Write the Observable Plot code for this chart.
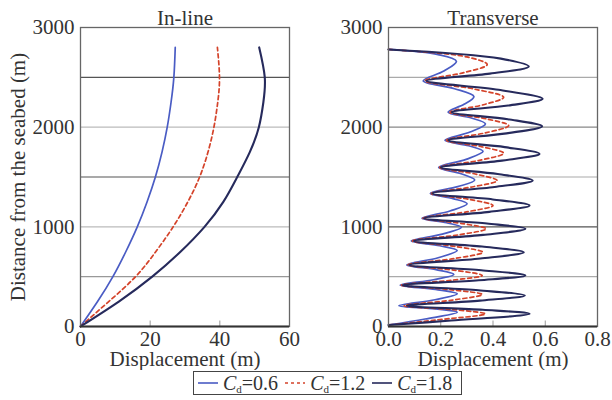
<!DOCTYPE html>
<html>
<head>
<meta charset="utf-8">
<script src="https://cdn.jsdelivr.net/npm/d3@7"></script>
<script src="https://cdn.jsdelivr.net/npm/@observablehq/plot@0.6"></script>
<style>
  html, body { margin: 0; padding: 0; background: #fff; }
  #wrap { position: relative; width: 612px; height: 400px; font-family: "Liberation Serif", serif; color: #333; }
  .panel { position: absolute; top: 0; }
  #legend { position: absolute; left: 193px; top: 371px; width: 267px; height: 22px; border: 1px solid #444;
    display: flex; align-items: center; font-size: 20px; color: #333; white-space: nowrap; }
  #legend .it { display: flex; align-items: center; }
  #legend sub { font-size: 11px; vertical-align: -3px; }
</style>
</head>
<body>
<div id="wrap">
  <div id="left" class="panel" style="left:0"></div>
  <div id="right" class="panel" style="left:300px"></div>
  <div id="legend"></div>
</div>
<script>
// ---------- data ----------
const seriesNames = ["Cd=0.6", "Cd=1.2", "Cd=1.8"];
const seriesColors = ["#4a5cc4", "#d4432a", "#262a5c"];

// In-line panel
const inlineDepth = [0, 250, 500, 750, 1000, 1250, 1500, 1750, 2000, 2250, 2500, 2800];
const inlineCd06 = [0, 4.9, 9.3, 13.0, 16.3, 19.1, 21.5, 23.4, 24.9, 26.0, 26.8, 27.2];
const inlineCd12 = [0, 8.1, 15.8, 21.6, 26.6, 30.8, 34.2, 36.6, 38.3, 39.4, 39.9, 39.3];
const inlineCd18 = [0, 11.0, 20.6, 28.7, 35.6, 41.0, 45.0, 48.6, 51.2, 52.5, 52.9, 51.3];

// Transverse panel
const transDepthCd06 = [2780,2728,2661,2563,2465,2386,2307,2229,2150,2092,2033,1951,1868,1813,1758,1677,1596,1533,1470,1403,1335,1283,1231,1159,1086,1041,996,927,858,810,762,690,618,570,522,469,415,372,328,268,208,176,143,75,15];
const transCd06 = [0,0.19,0.26,0.212,0.133,0.253,0.327,0.289,0.228,0.317,0.371,0.312,0.216,0.307,0.362,0.297,0.192,0.278,0.33,0.265,0.16,0.247,0.301,0.235,0.128,0.222,0.279,0.206,0.087,0.196,0.263,0.19,0.07,0.182,0.25,0.172,0.045,0.18,0.263,0.178,0.04,0.178,0.263,0.14,0];
const transDepthCd12 = [2780,2705,2628,2547,2465,2383,2300,2225,2150,2083,2016,1942,1868,1803,1738,1667,1596,1530,1464,1400,1335,1275,1214,1150,1086,1033,980,919,858,802,745,682,618,565,512,464,415,368,321,265,208,168,127,65,15];
const transCd12 = [0,0.3,0.378,0.288,0.14,0.327,0.441,0.363,0.235,0.375,0.46,0.37,0.222,0.358,0.441,0.348,0.196,0.332,0.416,0.32,0.164,0.31,0.4,0.298,0.132,0.282,0.374,0.267,0.092,0.259,0.361,0.252,0.074,0.251,0.359,0.242,0.05,0.242,0.359,0.245,0.06,0.253,0.371,0.18,0];
const transDepthCd18 = [2780,2688,2608,2537,2465,2375,2284,2217,2150,2080,2009,1938,1868,1800,1732,1664,1596,1530,1464,1400,1335,1275,1214,1150,1086,1033,980,919,858,802,745,682,618,565,512,464,415,363,311,260,208,168,127,60,15];
const transCd18 = [0,0.43,0.537,0.388,0.145,0.421,0.59,0.458,0.242,0.457,0.588,0.452,0.229,0.445,0.578,0.434,0.2,0.418,0.552,0.406,0.168,0.399,0.54,0.386,0.136,0.377,0.524,0.362,0.097,0.358,0.518,0.351,0.079,0.355,0.524,0.345,0.054,0.344,0.522,0.35,0.07,0.361,0.54,0.24,0];

const yTicks = [0, 1000, 2000, 3000];
const gridDepths = [500, 1000, 1500, 2000, 2500];
const inlineTicks = [0, 20, 40, 60];
const transTicks = [0, 0.2, 0.4, 0.6, 0.8];

// ---------- helpers ----------
const toRows = (depths, vals) => depths.map((d, i) => ({d, v: vals[i]}));
const inlineSets = [inlineCd06, inlineCd12, inlineCd18].map(v => toRows(inlineDepth, v));
const transSets = [
  toRows(transDepthCd06, transCd06),
  toRows(transDepthCd12, transCd12),
  toRows(transDepthCd18, transCd18)
];

function lineMarks(sets, curve) {
  return sets.map((rows, i) => Plot.line(rows, {
    x: "v", y: "d", curve,
    stroke: seriesColors[i],
    strokeWidth: i === 2 ? 2.1 : 1.7,
    strokeDasharray: i === 1 ? "4,3" : null
  }));
}

function panel({width, marginLeft, marginRight, xDomain, xTicks, xFormat, title, yLabel, gridColors, sets, innerTicks, curve}) {
  return Plot.plot({
    width, height: 370,
    marginLeft, marginRight, marginTop: 27, marginBottom: 44,
    style: {fontFamily: "Liberation Serif, serif", fontSize: "20.5px", color: "#333", background: "transparent"},
    x: {domain: xDomain},
    y: {domain: [0, 3000]},
    marks: [
      Plot.ruleY(gridDepths, {stroke: (d, i) => gridColors[i], strokeWidth: 1.2}),
      Plot.ruleX(innerTicks, {y1: 0, y2: 55, stroke: "#999"}),
      ...lineMarks(sets, curve),
      Plot.frame({stroke: "#666", strokeWidth: 1.3}),
      Plot.ruleY([0], {stroke: "#333", strokeWidth: 2}),
      Plot.axisX({ticks: xTicks, tickFormat: xFormat, tickSize: 0, tickPadding: 5,
        label: "Displacement (m)", labelAnchor: "center", labelArrow: "none", labelOffset: 39, fontSize: 21}),
      Plot.axisY({ticks: yTicks, tickFormat: d => String(d), tickSize: 0, tickPadding: 6,
        label: yLabel, labelAnchor: "center", labelArrow: "none", labelOffset: 70, fontSize: 21}),
      Plot.text([title], {frameAnchor: "top", dy: -17, fontSize: 21, fill: "#333"})
    ]
  });
}

document.getElementById("left").appendChild(panel({
  width: 300, marginLeft: 80, marginRight: 11,
  xDomain: [0, 60], xTicks: inlineTicks, xFormat: d => String(d),
  title: "In-line", yLabel: "Distance from the seabed (m)",
  gridColors: ["#999", "#bbb", "#555", "#bbb", "#555"],
  sets: inlineSets, innerTicks: [20, 40], curve: "natural"
}));

document.getElementById("right").appendChild(panel({
  width: 312, marginLeft: 88, marginRight: 15,
  xDomain: [0, 0.8], xTicks: transTicks, xFormat: d => d.toFixed(1),
  title: "Transverse", yLabel: null,
  gridColors: ["#aaa", "#555", "#aaa", "#888", "#aaa"],
  sets: transSets, innerTicks: [0.2, 0.4, 0.6], curve: "catmull-rom"
}));

// ---------- legend ----------
const legend = document.getElementById("legend");
const legendVals = ["0.6", "1.2", "1.8"];
legendVals.forEach((val, i) => {
  const it = document.createElement("span");
  it.className = "it";
  const dash = i === 1 ? 'stroke-dasharray="3,3"' : "";
  it.innerHTML = `<svg width="22" height="10" style="margin:0 4px 0 ${i === 0 ? 3 : 6}px"><line x1="1" x2="21" y1="5" y2="5" stroke="${seriesColors[i]}" stroke-width="1.6" ${dash}/></svg>` +
    `<span><i>C</i><sub>d</sub>=${val}</span>`;
  legend.appendChild(it);
});
</script>
</body>
</html>
